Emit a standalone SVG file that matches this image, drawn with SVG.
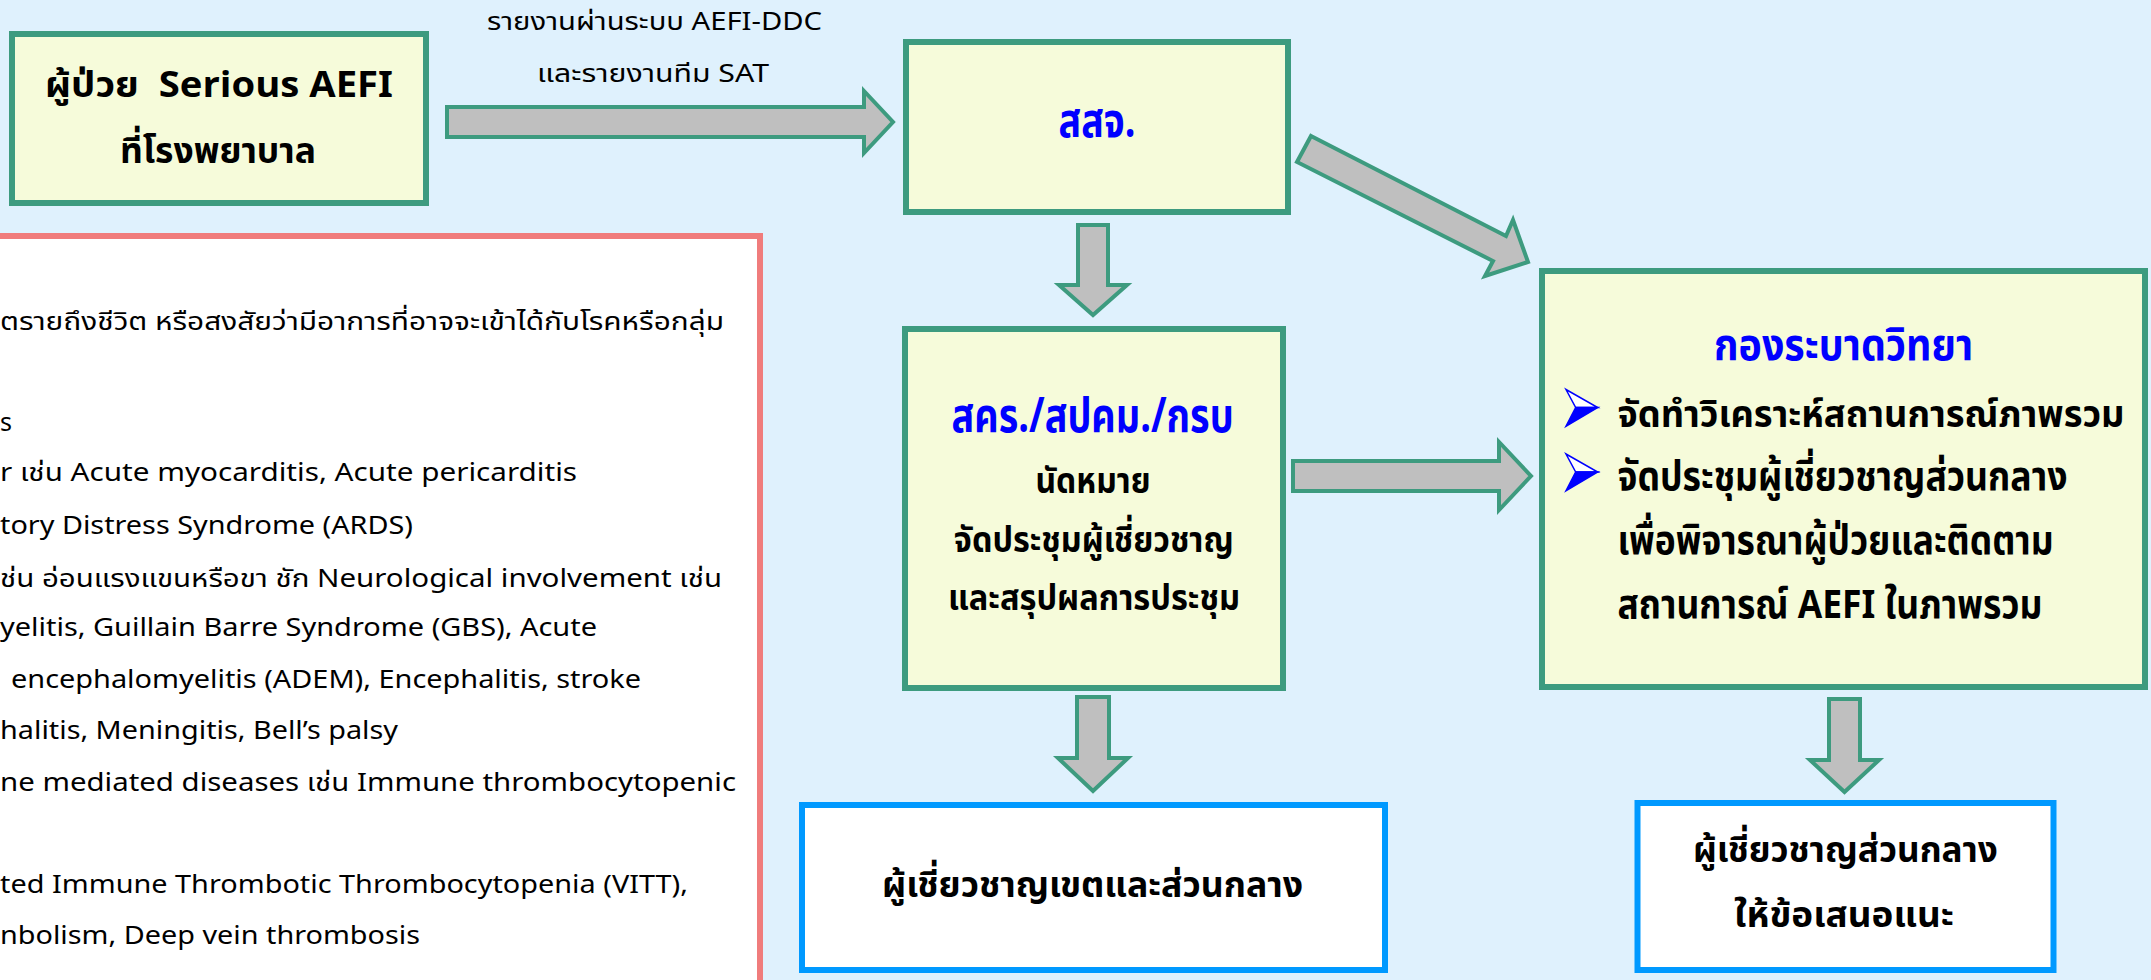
<svg xmlns="http://www.w3.org/2000/svg" width="2151" height="980" viewBox="0 0 2151 980">
<defs>
<style>
text{font-family:"Noto Sans Thai","Noto Sans","DejaVu Sans",sans-serif;fill:#000;}
.b{font-weight:bold;}
.blue{fill:#0000FF;}
.node{fill:#F6FBDA;stroke:#3D9B7F;stroke-width:6;}
.out{fill:#FFFFFF;stroke:#0099FF;stroke-width:6;}
.arr{fill:#BFBFBF;stroke:#3D9B7F;stroke-width:4;stroke-linejoin:miter;}
.lt{font-size:25px;}
.bul-o{fill:#FFFFFF;stroke:#0000FF;stroke-width:1.5;stroke-linejoin:miter;}
.bul-f{fill:#0000FF;stroke:#0000FF;stroke-width:1.5;stroke-linejoin:miter;}
</style>
<g id="bullet">
<polygon class="bul-o" points="0,0 31.7,18 9.7,18"/>
<polygon class="bul-f" points="9.7,18 31.7,18 0,36.7"/>
</g>
</defs>
<rect x="0" y="0" width="2151" height="980" fill="#DFF1FD"/>

<g id="criteria">
<rect x="-20" y="236" width="780" height="800" fill="#FFFFFF" stroke="#F07C7C" stroke-width="6"/>
<text class="lt" x="0" y="330" textLength="724" lengthAdjust="spacingAndGlyphs">ตรายถึงชีวิต หรือสงสัยว่ามีอาการที่อาจจะเข้าได้กับโรคหรือกลุ่ม</text>
<text class="lt" x="0" y="431">s</text>
<text class="lt" x="0" y="481" textLength="577" lengthAdjust="spacingAndGlyphs">r เช่น Acute myocarditis, Acute pericarditis</text>
<text class="lt" x="0" y="534" textLength="413" lengthAdjust="spacingAndGlyphs">tory Distress Syndrome (ARDS)</text>
<text class="lt" x="0" y="587" textLength="722" lengthAdjust="spacingAndGlyphs">ช่น อ่อนแรงแขนหรือขา ชัก Neurological involvement เช่น</text>
<text class="lt" x="0" y="636" textLength="597" lengthAdjust="spacingAndGlyphs">yelitis, Guillain Barre Syndrome (GBS), Acute</text>
<text class="lt" x="11" y="688" textLength="630" lengthAdjust="spacingAndGlyphs">encephalomyelitis (ADEM), Encephalitis, stroke</text>
<text class="lt" x="0" y="739" textLength="398" lengthAdjust="spacingAndGlyphs">halitis, Meningitis, Bell’s palsy</text>
<text class="lt" x="0" y="791" textLength="736" lengthAdjust="spacingAndGlyphs">ne mediated diseases เช่น Immune thrombocytopenic</text>
<text class="lt" x="0" y="893" textLength="688" lengthAdjust="spacingAndGlyphs">ted Immune Thrombotic Thrombocytopenia (VITT),</text>
<text class="lt" x="0" y="944" textLength="420" lengthAdjust="spacingAndGlyphs">nbolism, Deep vein thrombosis</text>
</g>

<g id="connectors">
<polygon class="arr" points="447,107 864,107 864,91 893,122 864,153 864,137 447,137"/>
<polygon class="arr" points="1078,225 1108,225 1108,285 1127,285 1093,315 1059,285 1078,285"/>
<polygon class="arr" points="1311,136 1506,236 1513,220 1528,262 1485,276 1493,261 1297,162"/>
<polygon class="arr" points="1293,461 1499,461 1499,442 1531,476 1499,510 1499,491 1293,491"/>
<polygon class="arr" points="1077,697 1109,697 1109,758 1128,758 1093,791 1058,758 1077,758"/>
<polygon class="arr" points="1829,699 1860,699 1860,760 1879,760 1844.5,792 1810,760 1829,760"/>
<text x="654.5" y="30" font-size="25" text-anchor="middle" textLength="335" lengthAdjust="spacingAndGlyphs">รายงานผ่านระบบ AEFI-DDC</text>
<text x="653" y="82" font-size="25" text-anchor="middle" textLength="232" lengthAdjust="spacingAndGlyphs">และรายงานทีม SAT</text>
</g>

<g id="patient">
<rect class="node" x="12" y="34" width="414" height="169"/>
<text class="b" x="219" y="97" font-size="36" text-anchor="middle" textLength="348" lengthAdjust="spacingAndGlyphs">ผู้ป่วย&#160;&#160;Serious AEFI</text>
<text class="b" x="218" y="163" font-size="36" text-anchor="middle" textLength="196" lengthAdjust="spacingAndGlyphs">ที่โรงพยาบาล</text>
</g>

<g id="ssj">
<rect class="node" x="906" y="42" width="382" height="170"/>
<text class="b blue" x="1097" y="137" font-size="48" text-anchor="middle" textLength="77" lengthAdjust="spacingAndGlyphs">สสจ.</text>
</g>

<g id="skr">
<rect class="node" x="905" y="329" width="378" height="359"/>
<text class="b blue" x="1092.6" y="432" font-size="48" text-anchor="middle" textLength="282" lengthAdjust="spacingAndGlyphs">สคร./สปคม./กรบ</text>
<text class="b" x="1093" y="493" font-size="36" text-anchor="middle" textLength="115" lengthAdjust="spacingAndGlyphs">นัดหมาย</text>
<text class="b" x="1093.8" y="552" font-size="36" text-anchor="middle" textLength="280" lengthAdjust="spacingAndGlyphs">จัดประชุมผู้เชี่ยวชาญ</text>
<text class="b" x="1094" y="610" font-size="36" text-anchor="middle" textLength="292" lengthAdjust="spacingAndGlyphs">และสรุปผลการประชุม</text>
</g>

<g id="epi">
<rect class="node" x="1542" y="271" width="603" height="416"/>
<text class="b blue" x="1843.5" y="360" font-size="44" text-anchor="middle" textLength="259" lengthAdjust="spacingAndGlyphs">กองระบาดวิทยา</text>
<use href="#bullet" x="1566" y="389.5"/>
<use href="#bullet" x="1566" y="454"/>
<text class="b" x="1617.5" y="427" font-size="38" textLength="507" lengthAdjust="spacingAndGlyphs">จัดทำวิเคราะห์สถานการณ์ภาพรวม</text>
<text class="b" x="1617.5" y="490" font-size="40" textLength="450" lengthAdjust="spacingAndGlyphs">จัดประชุมผู้เชี่ยวชาญส่วนกลาง</text>
<text class="b" x="1617.5" y="554" font-size="40" textLength="436" lengthAdjust="spacingAndGlyphs">เพื่อพิจารณาผู้ป่วยและติดตาม</text>
<text class="b" x="1617.5" y="618" font-size="40" textLength="425" lengthAdjust="spacingAndGlyphs">สถานการณ์ AEFI ในภาพรวม</text>
</g>

<g id="regional">
<rect class="out" x="802" y="805" width="583" height="165"/>
<text class="b" x="1092.5" y="897" font-size="36" text-anchor="middle" textLength="421" lengthAdjust="spacingAndGlyphs">ผู้เชี่ยวชาญเขตและส่วนกลาง</text>
</g>

<g id="central">
<rect class="out" x="1637.5" y="803" width="416" height="167"/>
<text class="b" x="1845.4" y="862" font-size="36" text-anchor="middle" textLength="305" lengthAdjust="spacingAndGlyphs">ผู้เชี่ยวชาญส่วนกลาง</text>
<text class="b" x="1844" y="927" font-size="36" text-anchor="middle" textLength="220" lengthAdjust="spacingAndGlyphs">ให้ข้อเสนอแนะ</text>
</g>
</svg>
